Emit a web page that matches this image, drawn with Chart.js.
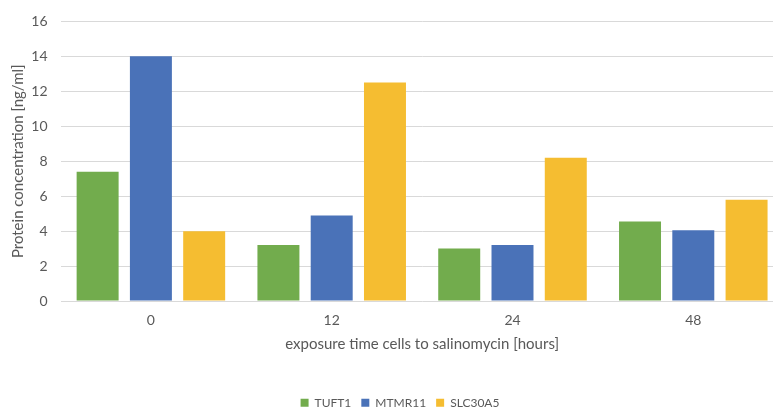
<!DOCTYPE html>
<html>
<head>
<meta charset="utf-8">
<script src="https://cdn.jsdelivr.net/npm/chart.js@4"></script>
<style>
  html, body { margin: 0; padding: 0; background: #fff; overflow: hidden; }
  #wrap { width: 800px; height: 409px; position: relative; }
</style>
</head>
<body>
<div id="wrap"><canvas id="c" width="800" height="409"></canvas></div>
<script>
// Exposure time (hours) and measured protein concentrations (ng/ml)
const categories = ['0', '12', '24', '48'];
const tuft1 = [7.4, 3.2, 3.0, 4.55];
const mtmr11 = [14.0, 4.9, 3.2, 4.05];
const slc30a5 = [4.0, 12.5, 8.2, 5.8];
const seriesNames = ['TUFT1', 'MTMR11', 'SLC30A5'];
const seriesColors = ['#72AC4D', '#4A72B8', '#F5BD31'];
const yTicks = { min: 0, max: 16, step: 2 };

const fontFamily = 'Lato, "Open Sans", sans-serif';
const textColor = '#595959';

const values = [tuft1, mtmr11, slc30a5];
const datasets = seriesNames.map((name, i) => ({
  label: name,
  data: values[i],
  backgroundColor: seriesColors[i],
  borderWidth: 0,
  categoryPercentage: 0.884,
  barPercentage: 0.788
}));

new Chart(document.getElementById('c'), {
  type: 'bar',
  data: { labels: categories, datasets },
  options: {
    responsive: false,
    animation: false,
    devicePixelRatio: 1,
    layout: { padding: { left: 16.3, right: 16.3, top: 19, bottom: -9.75 } },
    plugins: {
      tooltip: { enabled: false },
      legend: {
        position: 'bottom',
        labels: {
          boxWidth: 8,
          boxHeight: 8,
          padding: 10,
          color: textColor,
          font: { family: fontFamily, size: 12 }
        }
      }
    },
    scales: {
      x: {
        grid: { display: false, drawTicks: false },
        border: { display: false },
        ticks: { color: textColor, padding: 11.3, font: { family: fontFamily, size: 14 } },
        title: {
          display: true,
          text: 'exposure time cells to salinomycin [hours]',
          color: textColor,
          font: { family: fontFamily, size: 15 },
          padding: { top: 0, bottom: 34 }
        },
        afterFit(scale) { scale.height = 85.7; }
      },
      y: {
        min: yTicks.min,
        max: yTicks.max,
        grid: { color: '#D9D9D9', lineWidth: 1, drawTicks: false },
        border: { display: false },
        ticks: {
          stepSize: yTicks.step,
          color: textColor,
          padding: 13,
          font: { family: fontFamily, size: 14 }
        },
        title: {
          display: true,
          text: 'Protein concentration [ng/ml]',
          color: textColor,
          font: { family: fontFamily, size: 15 },
          padding: { top: -7.3, bottom: 0 }
        },
        afterFit(scale) { scale.width = 44.2; }
      }
    }
  }
});
</script>
</body>
</html>
